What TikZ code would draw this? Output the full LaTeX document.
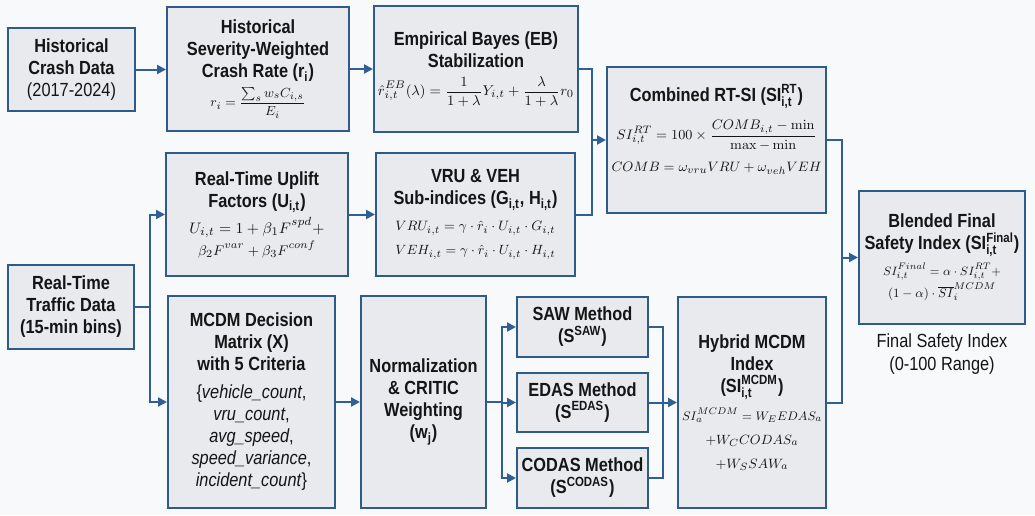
\documentclass[tikz,border=0pt]{standalone}
\usepackage{amsmath}
\usepackage[no-math]{fontspec}
\setmainfont{Liberation Sans}[FakeStretch=0.86]
\usepackage{tikz}
\usetikzlibrary{arrows.meta,positioning}
\definecolor{canvas}{HTML}{F8F9FA}
\definecolor{boxfill}{HTML}{E8EAED}
\definecolor{boxedge}{HTML}{2D5B8C}
\definecolor{flowline}{HTML}{2F5F95}
\definecolor{inktext}{HTML}{151515}
\newcommand{\subsup}[3]{#1$^{\text{#3}}_{\text{#2}}$}
\newcommand{\eqw}[2]{\resizebox{#1}{!}{$\displaystyle #2$}}

\begin{document}
\begin{tikzpicture}[x=0.5pt,y=-0.5pt,
    blk/.style={draw=boxedge,fill=boxfill,line width=1pt,align=center,text=inktext,
      inner sep=2pt,font=\fontsize{9.5}{11}\selectfont},
    bsz/.style 2 args={minimum width=#1*0.5pt,minimum height=#2*0.5pt},
    capt/.style={align=center,text=inktext,inner sep=0pt,font=\fontsize{9.5}{11.5}\selectfont},
    flow/.style={draw=flowline,line width=1pt,-{Triangle[length=4.5pt,width=4.5pt]}},
    link/.style={draw=flowline,line width=1pt}]
  \fill[canvas] (0,0) rectangle (1035,515);

  % historical branch
  \node[blk,bsz={127}{83}] (hist) at (71.5,69.5)
    {\textbf{Historical}\\\textbf{Crash Data}\\(2017-2024)};
  \node[blk,bsz={182}{124}] (sev) at (258,69)
    {\textbf{Historical}\\\textbf{Severity-Weighted}\\\textbf{Crash Rate (r\textsubscript{i})}\\[2pt]
     \eqw{47.5pt}{r_i=\frac{\sum_s w_sC_{i,s}}{E_i}}};
  \node[blk,bsz={202}{126}] (eb) at (476,69)
    {\textbf{Empirical Bayes (EB)}\\\textbf{Stabilization}\\[3pt]
     \eqw{98pt}{\hat r^{EB}_{i,t}(\lambda)=\frac{1}{1+\lambda}Y_{i,t}+\frac{\lambda}{1+\lambda}r_0}};
  \node[blk,bsz={219}{146}] (comb) at (716.5,140)
    {\textbf{Combined RT-SI (\subsup{SI}{i,t}{RT})}\\[5pt]
     \eqw{100pt}{SI^{RT}_{i,t}=100\times\frac{COMB_{i,t}-\min}{\max-\min}}\\[5pt]
     \eqw{105pt}{COMB=\omega_{vru}VRU+\omega_{veh}VEH}\\[1pt]\mbox{}};

  % real-time branch
  \node[blk,bsz={126}{84}] (traf) at (71,307)
    {\textbf{Real-Time}\\\textbf{Traffic Data}\\\textbf{(15-min bins)}};
  \node[blk,bsz={182}{123}] (upl) at (257,214.5)
    {\textbf{Real-Time Uplift}\\\textbf{Factors (U\textsubscript{i,t})}\\[2pt]
     \eqw{67.5pt}{U_{i,t}=1+\beta_1F^{spd}+}\\
     \eqw{59pt}{\beta_2F^{var}+\beta_3F^{conf}}};
  \node[blk,bsz={199}{123}] (vru) at (475.5,214.5)
    {\textbf{VRU \& VEH}\\\textbf{Sub-indices (G\textsubscript{i,t}, H\textsubscript{i,t})}\\[2pt]
     \eqw{80pt}{VRU_{i,t}=\gamma\cdot\hat r_i\cdot U_{i,t}\cdot G_{i,t}}\\[1pt]
     \eqw{80pt}{VEH_{i,t}=\gamma\cdot\hat r_i\cdot U_{i,t}\cdot H_{i,t}}};

  % mcdm branch
  \node[blk,bsz={167}{212}] (mcdm) at (251.5,402)
    {\textbf{MCDM Decision}\\\textbf{Matrix (X)}\\\textbf{with 5 Criteria}\\[3pt]
     \{\textit{vehicle\_count},\\\textit{vru\_count},\\\textit{avg\_speed},\\
     \textit{speed\_variance},\\\textit{incident\_count}\}};
  \node[blk,bsz={125}{212}] (norm) at (423.5,402)
    {\textbf{Normalization}\\\textbf{\& CRITIC}\\\textbf{Weighting}\\\textbf{(w\textsubscript{j})}};
  \node[blk,bsz={131}{60}] (saw) at (582.5,327)
    {\textbf{SAW Method}\\\textbf{(S$^{\text{SAW}}$)}};
  \node[blk,bsz={131}{59}] (edas) at (582.5,402.5)
    {\textbf{EDAS Method}\\\textbf{(S$^{\text{EDAS}}$)}};
  \node[blk,bsz={131}{60}] (codas) at (582.5,478)
    {\textbf{CODAS Method}\\\textbf{(S$^{\text{CODAS}}$)}};
  \node[blk,bsz={146}{211}] (hyb) at (752,402.5)
    {\textbf{Hybrid MCDM}\\\textbf{Index}\\\textbf{(\subsup{SI}{i,t}{MCDM})}\\[3pt]
     \eqw{70pt}{SI^{MCDM}_a=W_EEDAS_a}\\[1pt]
     \eqw{46.5pt}{+W_CCODAS_a}\\[1pt]
     \eqw{36.5pt}{+W_SSAW_a}};

  % final index
  \node[blk,bsz={166}{133}] (blend) at (942,257.5)
    {\textbf{Blended Final}\\\textbf{Safety Index (\subsup{SI}{i,t}{Final})}\\[2pt]
     \eqw{59pt}{SI^{Final}_{i,t}=\alpha\cdot SI^{RT}_{i,t}+}\\
     \eqw{54pt}{(1-\alpha)\cdot\overline{SI}^{MCDM}_i}};
  \node[capt,below=4pt of blend] (note) {Final Safety Index\\(0-100 Range)};

  % connectors
  \draw[flow] (hist.east) -- (hist.east -| sev.west);
  \draw[flow] (sev) -- (eb);
  \coordinate (jrt) at (592,140);
  \draw[flow] (eb.east) -| (jrt) -- (comb.west);
  \draw[link] (vru.east) -| (jrt);
  \coordinate (jtr) at (150,307);
  \draw[link] (traf.east) -- (jtr);
  \draw[flow] (jtr) |- (upl.west);
  \draw[flow] (jtr) |- (mcdm.west);
  \draw[flow] (upl) -- (vru);
  \draw[flow] (mcdm) -- (norm);
  \coordinate (jn) at (502,402);
  \draw[link] (norm.east) -- (jn);
  \foreach \m in {saw,edas,codas}
    \draw[flow] (jn) |- (\m.west);
  \coordinate (jm) at (663,402.5);
  \draw[link] (saw.east) -| (jm) (codas.east) -| (jm);
  \draw[flow] (edas) -- (hyb);
  \coordinate (jf) at (842,257.5);
  \draw[link] (comb.east) -| (jf) (hyb.east) -| (jf);
  \draw[flow] (jf) -- (blend.west);
\end{tikzpicture}
\end{document}
